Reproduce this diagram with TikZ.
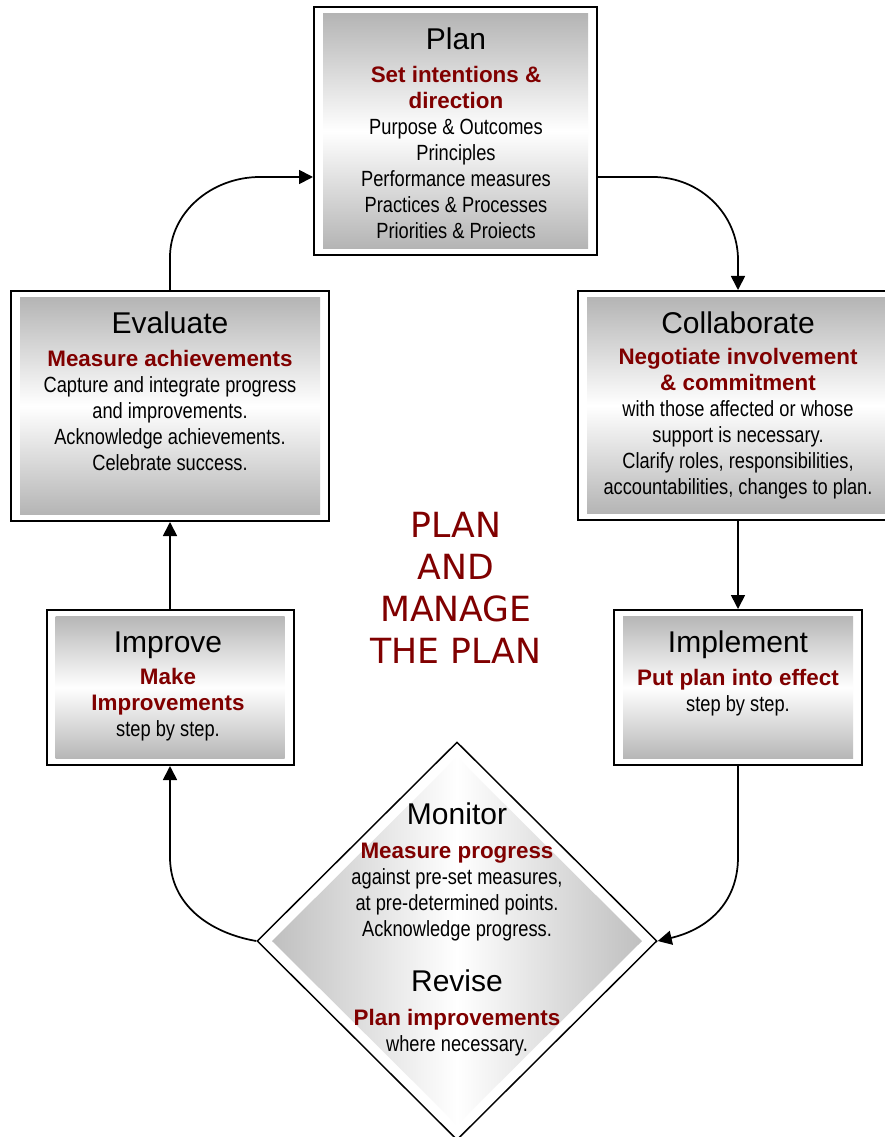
\documentclass[tikz,border=0pt]{standalone}
\usepackage{fontspec}
\setmainfont{Liberation Sans}
\newfontfamily\narrowf[FakeStretch=0.83]{Liberation Sans}
\newfontfamily\dejavuf{DejaVu Sans}
\usetikzlibrary{arrows.meta,shapes.geometric}
\definecolor{dred}{RGB}{128,0,0}
\definecolor{boxgray}{RGB}{176,176,176}
\definecolor{diagray}{RGB}{186,186,186}
\newcommand\rl[1]{{\rmfamily\bfseries\color{dred}\fontsize{16.8}{19.5}\selectfont #1}}
\tikzset{
  box/.style={draw, line width=1.5pt, fill=white, inner sep=0,
    path picture={\shade[top color=boxgray, bottom color=boxgray, middle color=white]
      ([shift={(6.75pt,-5pt)}]path picture bounding box.north west) rectangle
      ([shift={(-6.75pt,5pt)}]path picture bounding box.south east);}},
  dia/.style={diamond, draw, line width=1.1pt, fill=white, inner sep=0, aspect=1,
    path picture={\shade[left color=diagray, right color=diagray, middle color=white]
      ([xshift=-138.75pt]path picture bounding box.center) --
      ([yshift=138pt]path picture bounding box.center) --
      ([xshift=138.75pt]path picture bounding box.center) --
      ([yshift=-138pt]path picture bounding box.center) -- cycle;}},
  ttl/.style={anchor=base, inner sep=0, font=\rmfamily\fontsize{22.5}{27}\selectfont},
  body/.style={anchor=base, inner sep=0, font=\narrowf\fontsize{16.5}{19.5}\selectfont},
  arr/.style={line width=1.3pt, -{Triangle[length=10.5pt,width=10.5pt]}}
}
\begin{document}
\begin{tikzpicture}[x=0.75pt,y=-0.75pt]
\useasboundingbox (0,0) rectangle (884,1137);
% boxes
\node[box, minimum width=212.25pt, minimum height=186pt] (plan) at (455.5,131) {};
\node[box, minimum width=238.5pt, minimum height=172.5pt] (eval) at (170,406) {};
\node[box, minimum width=240pt, minimum height=171.75pt] (collab) at (738,405.5) {};
\node[box, minimum width=185.25pt, minimum height=116.25pt] (improve) at (170,687.5) {};
\node[box, minimum width=186pt, minimum height=116.25pt] (impl) at (738,687.5) {};
\node[dia, minimum width=300pt, minimum height=298.5pt] (mon) at (457,941) {};
% texts
\node[ttl] (planT) at (456,50) {Plan};
\node[body] (planB) at (456,83) {\begin{tabular}[t]{@{}c@{}}\rl{Set intentions \&}\\ \rl{direction}\\ Purpose \& Outcomes\\ Principles\\ Performance measures\\ Practices \& Processes\\ Priorities \& Proiects\end{tabular}};
\node[ttl] (evalT) at (170,333) {Evaluate};
\node[body] (evalB) at (170,366) {\begin{tabular}[t]{@{}c@{}}\rl{Measure achievements}\\ Capture and integrate progress\\ and improvements.\\ Acknowledge achievements.\\ Celebrate success.\end{tabular}};
\node[ttl] (collabT) at (738,333) {Collaborate};
\node[body] (collabB) at (738,364) {\begin{tabular}[t]{@{}c@{}}\rl{Negotiate involvement}\\ \rl{\& commitment}\\ with those affected or whose\\ support is necessary.\\ Clarify roles, responsibilities,\\ accountabilities, changes to plan.\end{tabular}};
\node[ttl] (improveT) at (168,652) {Improve};
\node[body] (improveB) at (168,684) {\begin{tabular}[t]{@{}c@{}}\rl{Make}\\ \rl{Improvements}\\ step by step.\end{tabular}};
\node[ttl] (implT) at (738,652) {Implement};
\node[body] (implB) at (738,685) {\begin{tabular}[t]{@{}c@{}}\rl{Put plan into effect}\\ step by step.\end{tabular}};
\node[ttl] (monT) at (457,824) {Monitor};
\node[body] (monB) at (457,858) {\begin{tabular}[t]{@{}c@{}}\rl{Measure progress}\\ against pre-set measures,\\ at pre-determined points.\\ Acknowledge progress.\end{tabular}};
\node[ttl] (revT) at (457,991) {Revise};
\node[body] (revB) at (457,1025) {\begin{tabular}[t]{@{}c@{}}\rl{Plan improvements}\\ where necessary.\end{tabular}};
\node[anchor=base, inner sep=0, text=dred, font=\dejavuf\fontsize{26}{31.7}\selectfont] (centre) at (456,537) {\begin{tabular}[t]{@{}c@{}}PLAN\\ AND\\ MANAGE\\ THE PLAN\end{tabular}};
% connectors
\draw[arr] (eval.north) -- (eval.north |- 0,257) .. controls (eval.north |- 0,213) and (211,177) .. (260,177) -- (plan.west |- 0,177);
\draw[arr] (plan.east |- 0,177) -- (653,177) .. controls (700,177) and (collab.north |- 0,214) .. (collab.north |- 0,260) -- (collab.north);
\draw[arr] (collab.south) -- (impl.north);
\draw[arr] (impl.south) -- (impl.south |- 0,857) .. controls (impl.south |- 0,905) and (705,930) .. (mon.east);
\draw[arr] (mon.west) .. controls (210,933) and (improve.south |- 0,905) .. (improve.south |- 0,857) -- (improve.south);
\draw[arr] (improve.north) -- (eval.south);
\end{tikzpicture}
\end{document}
